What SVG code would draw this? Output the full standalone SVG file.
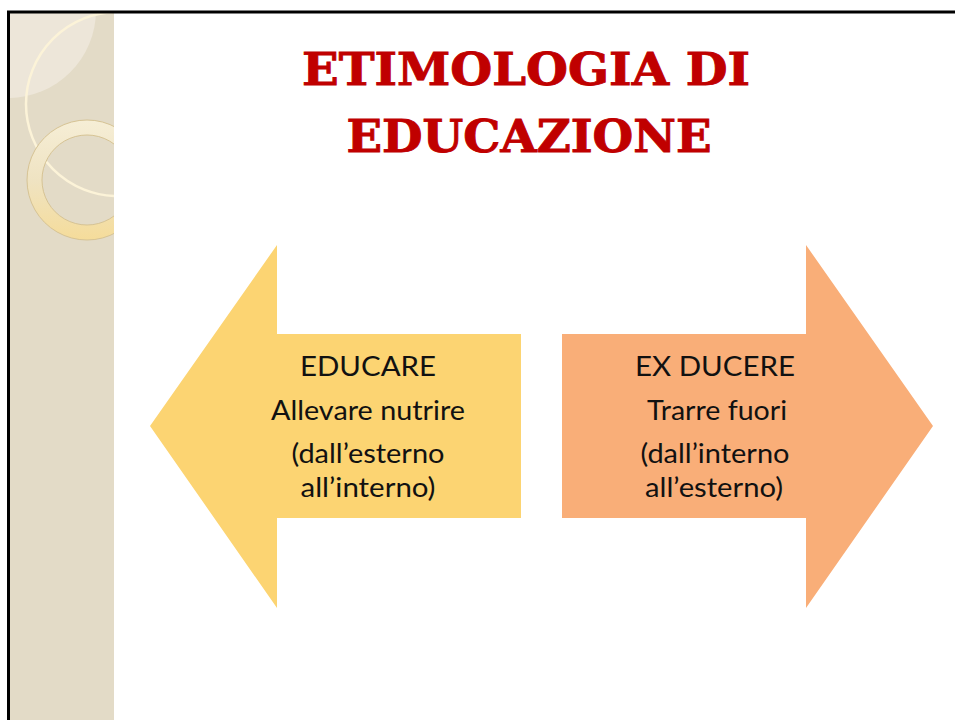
<svg xmlns="http://www.w3.org/2000/svg" width="955" height="720" viewBox="0 0 955 720">
  <style>
    .title { font-family: "DejaVu Serif", "Liberation Serif", serif; font-weight: bold; fill: #C00000; stroke: #C00000; stroke-width: 0.9; font-size: 44px; }
    .lbl { font-family: "Lato", "Open Sans", "Liberation Sans", sans-serif; fill: #111; font-size: 27px; text-anchor: middle; }
  </style>
  <defs>
    <clipPath id="panelClip"><rect x="10" y="13" width="104" height="707"/></clipPath>
    <linearGradient id="ringGrad" x1="0" y1="0" x2="0" y2="1">
      <stop offset="0" stop-color="#F6EED6"/>
      <stop offset="0.5" stop-color="#EFE3C2"/>
      <stop offset="1" stop-color="#F5DC9A"/>
    </linearGradient>
  </defs>
  <rect x="0" y="0" width="955" height="720" fill="#FFFFFF"/>
  <g id="background">
    <rect x="10" y="13" width="104" height="707" fill="#E3DBC7"/>
    <g clip-path="url(#panelClip)">
      <circle cx="8" cy="10" r="88" fill="#EDE6D9"/>
      <circle cx="118" cy="104" r="92" fill="none" stroke="#FCF3D8" stroke-width="2.5"/>
      <path d="M87,120 a60,60 0 1,0 0.01,0 Z M87,135 a45,45 0 1,1 -0.01,0 Z" fill="url(#ringGrad)" fill-rule="evenodd" stroke="#D6C394" stroke-width="1"/>
    </g>
    <path d="M8.5,720 V12 H955" fill="none" stroke="#000" stroke-width="3"/>
  </g>
  <g id="title">
    <text class="title" x="526" y="85" text-anchor="middle" textLength="448" lengthAdjust="spacingAndGlyphs">ETIMOLOGIA DI</text>
    <text class="title" x="529" y="152" text-anchor="middle" textLength="365" lengthAdjust="spacingAndGlyphs">EDUCAZIONE</text>
  </g>
  <g id="connectors"></g>
  <g id="educare">
    <polygon points="150,426 277,245 277,334 521,334 521,518 277,518 277,608" fill="#FCD472"/>
    <text class="lbl" x="368" y="376" textLength="136" lengthAdjust="spacingAndGlyphs">EDUCARE</text>
    <text class="lbl" x="368" y="420" textLength="194" lengthAdjust="spacingAndGlyphs">Allevare nutrire</text>
    <text class="lbl" x="368" y="463" textLength="153" lengthAdjust="spacingAndGlyphs">(dall’esterno</text>
    <text class="lbl" x="368" y="497" textLength="135" lengthAdjust="spacingAndGlyphs">all’interno)</text>
  </g>
  <g id="exducere">
    <polygon points="933,426 806,245 806,334 562,334 562,518 806,518 806,608" fill="#F9AE78"/>
    <text class="lbl" x="715" y="376" textLength="160" lengthAdjust="spacingAndGlyphs">EX DUCERE</text>
    <text class="lbl" x="717" y="420" textLength="140" lengthAdjust="spacingAndGlyphs">Trarre fuori</text>
    <text class="lbl" x="715" y="463" textLength="149" lengthAdjust="spacingAndGlyphs">(dall’interno</text>
    <text class="lbl" x="714" y="497" textLength="138" lengthAdjust="spacingAndGlyphs">all’esterno)</text>
  </g>
</svg>
